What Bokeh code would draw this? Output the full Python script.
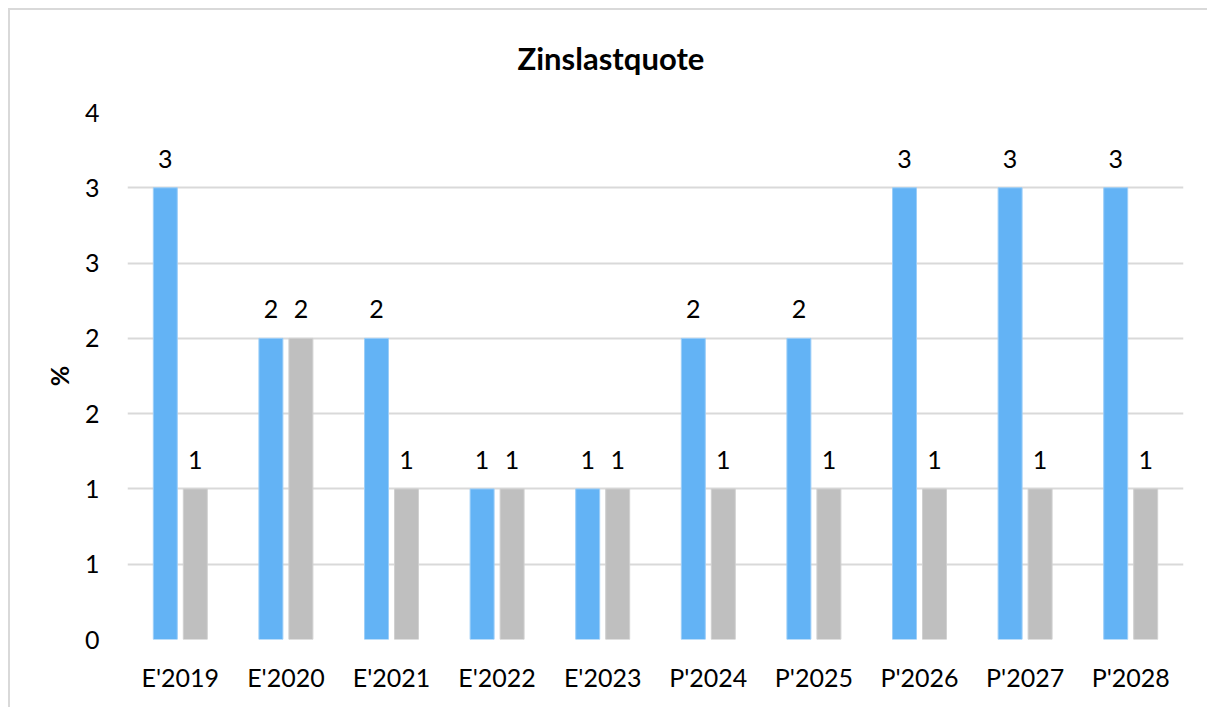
from bokeh.plotting import figure
from bokeh.models import FactorRange, Range1d, FixedTicker, ColumnDataSource, LabelSet
from bokeh.transform import dodge
from bokeh.core.properties import value
from bokeh.embed import file_html
from bokeh.resources import INLINE

categories = ["E'2019", "E'2020", "E'2021", "E'2022", "E'2023",
              "P'2024", "P'2025", "P'2026", "P'2027", "P'2028"]
series_blue = [3, 2, 2, 1, 1, 2, 2, 3, 3, 3]
series_grey = [1, 2, 1, 1, 1, 1, 1, 1, 1, 1]
y_ticks = [0, 0.5, 1, 1.5, 2, 2.5, 3, 3.5]
y_tick_labels = ["0", "1", "1", "2", "2", "3", "3", "4"]
title_text = "Zinslastquote"

FONT = "Lato"
TICK_SIZE = "25px"

src = ColumnDataSource(dict(
    cat=categories,
    blue=series_blue,
    grey=series_grey,
    blue_lbl=[str(v) for v in series_blue],
    grey_lbl=[str(v) for v in series_grey],
))

p = figure(x_range=FactorRange(*categories), y_range=Range1d(0, 3.5),
           width=1207, height=707, output_backend="svg", toolbar_location=None,
           min_border_left=127, min_border_right=24, min_border_top=107,
           min_border_bottom=68)
# chart-area border (top and left edge), drawn behind a transparent canvas
p.styles = {
    "background-color": "white",
    "background-image": "linear-gradient(#D9D9D9, #D9D9D9), linear-gradient(#D9D9D9, #D9D9D9)",
    "background-size": "100% 2px, 2px 100%",
    "background-position": "8px 8px, 8px 8px",
    "background-repeat": "no-repeat",
}
p.border_fill_color = None
p.outline_line_color = None
p.background_fill_color = "white"

p.title.text = title_text
p.title.align = "left"
p.title.offset = 390
p.title.text_font = FONT
p.title.text_font_size = "31px"
p.title.text_font_style = "bold"
p.title.text_color = "black"
p.title.text_line_height = 0.8
if "standoff" in p.title.properties():
    p.title.standoff = 72

p.vbar(x=dodge("cat", -0.142, range=p.x_range), top="blue", width=0.227,
       source=src, fill_color="#63B3F5", line_color="#9CCEF8", line_width=1)
p.vbar(x=dodge("cat", 0.142, range=p.x_range), top="grey", width=0.227,
       source=src, fill_color="#BFBFBF", line_color="#D0D0D0", line_width=1)

for col, off in (("blue", -0.142), ("grey", 0.142)):
    lbl = LabelSet(x=dodge("cat", off, range=p.x_range), y=col, text=col + "_lbl",
                   source=src, text_align="center", text_baseline="alphabetic",
                   y_offset=20, text_font=value(FONT), text_font_size=TICK_SIZE,
                   text_color="black")
    p.add_layout(lbl)

p.yaxis.ticker = FixedTicker(ticks=y_ticks)
p.yaxis.major_label_overrides = {t: l for t, l in zip(y_ticks, y_tick_labels)}
p.yaxis.axis_label = "%"
p.yaxis.axis_label_text_font = FONT
p.yaxis.axis_label_text_font_size = "25px"
p.yaxis.axis_label_text_font_style = "bold"
p.yaxis.axis_label_text_color = "black"
p.yaxis.axis_label_standoff = 8
for ax in (p.xaxis, p.yaxis):
    ax.axis_line_color = None
    ax.major_tick_line_color = None
    ax.minor_tick_line_color = None
    ax.major_label_text_font = FONT
    ax.major_label_text_font_size = TICK_SIZE
    ax.major_label_text_color = "black"
p.yaxis.major_label_standoff = 22
p.xaxis.major_label_standoff = 16

p.xgrid.grid_line_color = None
p.ygrid.grid_line_color = "#D9D9D9"
p.ygrid.grid_line_width = 2

open("out.html", "w").write(file_html(p, INLINE))
